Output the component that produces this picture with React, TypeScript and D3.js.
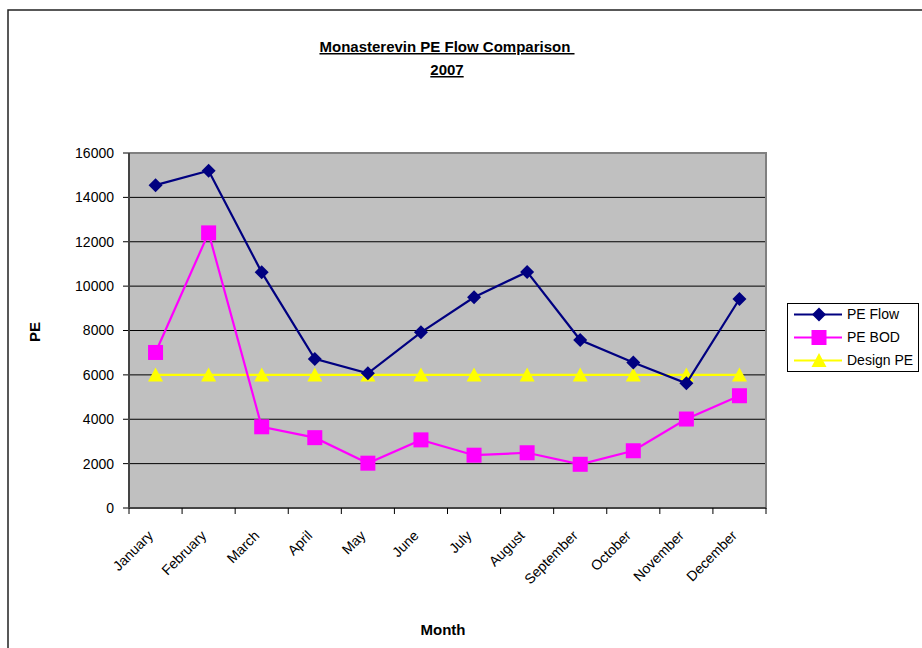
import React from "react";
import * as d3 from "d3";

const months = ["January","February","March","April","May","June","July","August","September","October","November","December"];
const peFlow = [14550, 15200, 10620, 6720, 6070, 7920, 9500, 10640, 7570, 6560, 5620, 9420];
const peBOD = [7010, 12400, 3660, 3170, 2020, 3070, 2380, 2490, 1970, 2580, 4010, 5060];
const designPE = [6000, 6000, 6000, 6000, 6000, 6000, 6000, 6000, 6000, 6000, 6000, 6000];
const yTicks = [0, 2000, 4000, 6000, 8000, 10000, 12000, 14000, 16000];
const seriesNames = ["PE Flow", "PE BOD", "Design PE"];

const W = 922, H = 648;
const L = 129, R = 766, T = 153, B = 508;
const FONT = "Arial, 'Liberation Sans', sans-serif";

const colors = ["#000080", "#FF00FF", "#FFFF00"];

function Marker({ kind, x, y, color }: { kind: number; x: number; y: number; color: string }) {
  if (kind === 0) {
    const s = 7;
    return <path d={`M${x},${y - s}L${x + s},${y}L${x},${y + s}L${x - s},${y}Z`} fill={color} />;
  }
  if (kind === 1) {
    const s = 7.5;
    return <rect x={x - s} y={y - s} width={2 * s} height={2 * s} fill={color} />;
  }
  const s = 7.5;
  return <path d={`M${x},${y - s}L${x + s},${y + s - 1}L${x - s},${y + s - 1}Z`} fill={color} />;
}

export default function App() {
  const x = d3.scaleBand<string>().domain(months).range([L, R]).padding(0);
  const y = d3.scaleLinear().domain([0, 16000]).range([B, T]);
  const cx = (m: string) => (x(m) as number) + x.bandwidth() / 2;
  const data = [peFlow, peBOD, designPE];
  const line = d3.line<number>().x((_, i) => cx(months[i])).y((v) => y(v));
  const order = [2, 1, 0];

  return (
    <svg width={W} height={H} style={{ position: "absolute", left: 0, top: 0, background: "#fff" }} fontFamily={FONT}>
      <rect x={8} y={10} width={W + 10} height={H + 10} fill="#fff" stroke="#222" strokeWidth={1.5} />
      <rect x={L} y={T} width={R - L} height={B - T} fill="#C0C0C0" />
      {yTicks.map((t) => (
        <g key={t}>
          {t > 0 && t < 16000 && <line x1={L} x2={R} y1={y(t)} y2={y(t)} stroke="#000" strokeWidth={1} />}
          <line x1={L - 6} x2={L} y1={y(t)} y2={y(t)} stroke="#000" strokeWidth={1} />
          <text x={L - 15} y={y(t)} dy="0.35em" textAnchor="end" fontSize={14} fill="#000">{t}</text>
        </g>
      ))}
      <rect x={L} y={T} width={R - L} height={B - T} fill="none" stroke="#808080" strokeWidth={2} />
      <line x1={L} x2={L} y1={T} y2={B} stroke="#444" strokeWidth={2} />
      <line x1={L} x2={R} y1={B} y2={B} stroke="#444" strokeWidth={2} />
      {months.map((m) => (
        <line key={"t" + m} x1={x(m) as number} x2={x(m) as number} y1={B} y2={B + 6} stroke="#000" />
      ))}
      <line x1={R} x2={R} y1={B} y2={B + 6} stroke="#000" />
      {months.map((m) => (
        <text key={"l" + m} transform={`translate(${cx(m) - 5},${B + 25}) rotate(-45)`} textAnchor="end" fontSize={14} fill="#000" dy="0.35em">{m}</text>
      ))}
      {order.map((si) => (
        <g key={"s" + si}>
          <path d={line(data[si]) as string} fill="none" stroke={colors[si]} strokeWidth={2.2} />
          {data[si].map((v, i) => (
            <Marker key={i} kind={si} x={cx(months[i])} y={y(v)} color={colors[si]} />
          ))}
        </g>
      ))}
      <text x={447} y={52} textAnchor="middle" fontSize={15} fontWeight="bold" textDecoration="underline" style={{ whiteSpace: "pre" }}>Monasterevin PE Flow Comparison </text>
      <text x={447} y={75} textAnchor="middle" fontSize={15} fontWeight="bold" textDecoration="underline">2007</text>
      <text transform={`translate(35,332) rotate(-90)`} textAnchor="middle" fontSize={15} fontWeight="bold" dy="0.35em">PE</text>
      <text x={443} y={630} textAnchor="middle" fontSize={15} fontWeight="bold" dy="0.35em">Month</text>
      <rect x={787.5} y={303.5} width={131} height={68} fill="#fff" stroke="#000" strokeWidth={1} />
      {seriesNames.map((n, i) => {
        const ly = 314.5 + i * 23;
        return (
          <g key={n}>
            <line x1={794} x2={842} y1={ly} y2={ly} stroke={colors[i]} strokeWidth={2.2} />
            <Marker kind={i} x={819} y={ly} color={colors[i]} />
            <text x={847} y={ly} dy="0.35em" fontSize={14} fill="#000">{n}</text>
          </g>
        );
      })}
    </svg>
  );
}
